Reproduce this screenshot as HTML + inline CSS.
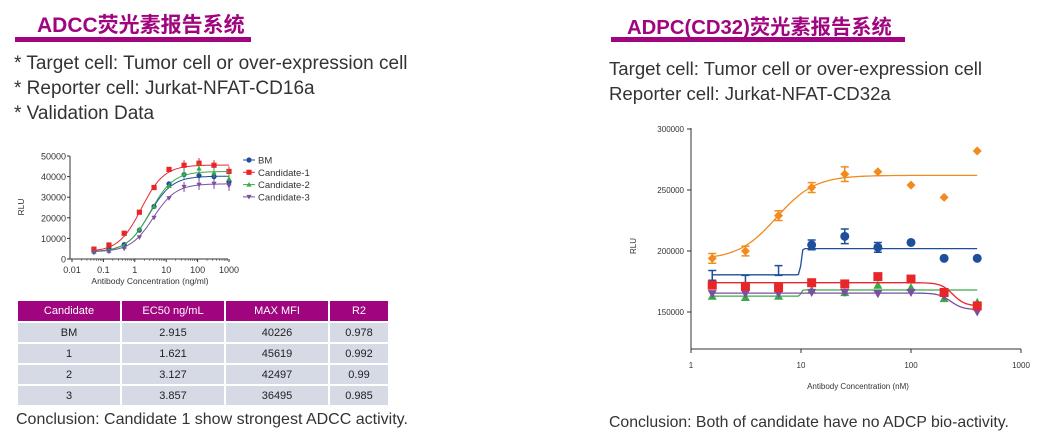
<!DOCTYPE html>
<html><head><meta charset="utf-8"><style>
body{margin:0;width:1046px;height:448px;background:#fff;overflow:hidden;position:relative;font-family:"Liberation Sans","Noto Sans CJK SC",sans-serif;color:#333}
.abs{position:absolute;white-space:nowrap}
.h{font-weight:bold;color:#a0057f}
.bar{position:absolute;background:#a0057f;height:5px}
.t{color:#333}
table{position:absolute;left:16px;top:299px;border-collapse:separate;border-spacing:2px;font-size:11px;text-align:center}
th,td{padding:0;line-height:12px}
th{background:#a0057f;color:#fff;font-weight:normal;height:20px}
td{background:#d6dae4;height:19px;color:#222}
svg{position:absolute;left:0;top:0}
</style></head><body>
<div class="abs h" style="left:37px;top:9px;font-size:21px">ADCC荧光素报告系统</div>
<div class="bar" style="left:15px;top:37px;width:236px"></div>
<div class="abs t" style="left:14px;top:53px;font-size:19px">* Target cell: Tumor cell or over-expression cell</div>
<div class="abs t" style="left:14px;top:78px;font-size:19px">* Reporter cell: Jurkat-NFAT-CD16a</div>
<div class="abs t" style="left:14px;top:103px;font-size:19px">* Validation Data</div>

<div class="abs h" style="left:627px;top:10px;font-size:20.3px">ADPC(CD32)荧光素报告系统</div>
<div class="bar" style="left:611px;top:37px;width:294px"></div>
<div class="abs t" style="left:609px;top:58px;font-size:18.6px">Target cell: Tumor cell or over-expression cell</div>
<div class="abs t" style="left:609px;top:83px;font-size:18.6px">Reporter cell: Jurkat-NFAT-CD32a</div>

<table>
<tr><th style="width:102px">Candidate</th><th style="width:102px">EC50 ng/mL</th><th style="width:102px">MAX MFI</th><th style="width:58px">R2</th></tr>
<tr><td>BM</td><td>2.915</td><td>40226</td><td>0.978</td></tr>
<tr><td>1</td><td>1.621</td><td>45619</td><td>0.992</td></tr>
<tr><td>2</td><td>3.127</td><td>42497</td><td>0.99</td></tr>
<tr><td>3</td><td>3.857</td><td>36495</td><td>0.985</td></tr>
</table>
<div class="abs" style="left:16px;top:411px;font-size:16px">Conclusion: Candidate 1 show strongest ADCC activity.</div>
<div class="abs" style="left:609px;top:414px;font-size:15.8px">Conclusion: Both of candidate have no ADCP bio-activity.</div>

<svg id="s" width="1046" height="448" xmlns="http://www.w3.org/2000/svg" font-family="Liberation Sans, sans-serif"></svg>
<script>
// ADCC chart data
const adccX=[0.05,0.15,0.46,1.4,4.1,12.3,37,111,333,1000];
const adccBM=[3800,5000,7000,14000,25500,36500,41000,40500,40000,37500];
const adccC1=[4800,6800,12500,22700,34700,43500,45500,46500,45500,42500];
const adccC2=[3500,4000,6000,14500,25500,35500,41500,44000,42000,39000];
const adccC3=[3000,3500,5000,10500,20000,29500,35000,36000,36500,35500];
const adccEC50=[2.915,1.621,3.127,3.857];
const adccTop=[40226,45619,42497,36495];
const adccNames=["BM","Candidate-1","Candidate-2","Candidate-3"];
const adccYTicks=[0,10000,20000,30000,40000,50000];
const adccXTicks=[0.01,0.1,1,10,100,1000];
// ADCP chart data
const adcpX=[1.56,3.125,6.25,12.5,25,50,100,200,400];
const adcpOrange=[194000,200000,229000,252000,263000,265000,254000,244000,282000];
const adcpBlue=[180000,176000,184000,205000,212000,203000,207000,194000,194000];
const adcpRed=[172000,171000,170000,174000,173000,179000,177000,166000,155000];
const adcpGreen=[163000,162000,163000,168000,166000,172000,170000,161000,158000];
const adcpPurple=[165000,165000,165000,166000,166000,165000,166000,163000,150000];
const adcpYTicks=[150000,200000,250000,300000];
const adcpXTicks=[1,10,100,1000];

const S=document.getElementById('s');const NS='http://www.w3.org/2000/svg';
function mk(t,a,p){const e=document.createElementNS(NS,t);for(const k in a)e.setAttribute(k,a[k]);(p||S).appendChild(e);return e;}
function txt(x,y,s,sz,anc,p){const e=mk('text',{x:x,y:y,'font-size':sz,'text-anchor':anc||'middle',fill:'#333'},p);e.textContent=s;return e;}
function marker(g,shape,x,y,r,c){
 if(shape==='circle')return mk('circle',{cx:x,cy:y,r:r,fill:c},g);
 if(shape==='square')return mk('rect',{x:x-r,y:y-r,width:2*r,height:2*r,fill:c},g);
 if(shape==='tri')return mk('polygon',{points:`${x},${y-r} ${x+r},${y+r*0.8} ${x-r},${y+r*0.8}`,fill:c},g);
 if(shape==='vtri')return mk('polygon',{points:`${x},${y+r} ${x+r},${y-r*0.8} ${x-r},${y-r*0.8}`,fill:c},g);
 if(shape==='diamond')return mk('polygon',{points:`${x},${y-r} ${x+r},${y} ${x},${y+r} ${x-r},${y}`,fill:c},g);
}
// ADCC axes
const lx=v=>72+(Math.log10(v)+2)*31.4, ly=v=>259-v/50000*103;
const g1=mk('g',{});
mk('line',{x1:70,y1:156,x2:70,y2:259,stroke:'#333','stroke-width':1},g1);
mk('line',{x1:70,y1:259,x2:228,y2:259,stroke:'#333','stroke-width':1},g1);
adccYTicks.forEach(v=>{mk('line',{x1:67,y1:ly(v),x2:70,y2:ly(v),stroke:'#333'},g1);txt(66,ly(v)+3.5,v,9,'end',g1);});
adccXTicks.forEach(v=>{mk('line',{x1:lx(v),y1:259,x2:lx(v),y2:262,stroke:'#333'},g1);txt(lx(v),273,v,9,'middle',g1);});
for(let d=-2;d<3;d++)for(let k=2;k<10;k++){const xx=lx(k*Math.pow(10,d));mk('line',{x1:xx,y1:259,x2:xx,y2:261,stroke:'#333','stroke-width':0.5},g1);}
txt(150,284,'Antibody Concentration (ng/ml)',8.5,'middle',g1);
const rl=txt(24,207,'RLU',8.5,'middle',g1);rl.setAttribute('transform','rotate(-90 24 207)');
const adccSeries=[adccBM,adccC1,adccC2,adccC3],adccCol=['#1f4e9c','#e8262a','#3aaa48','#7b4fa0'],adccShp=['circle','square','tri','vtri'];
adccSeries.forEach((ys,i)=>{
 const g=mk('g',{},g1);
 
 
 let d='';for(let k=0;k<=80;k++){const lv=Math.log10(0.05)+k/80*(3-Math.log10(0.05));const x=Math.pow(10,lv);const y=3500+(adccTop[i]-3500)/(1+Math.pow(adccEC50[i]/x,1.2));d+=(k?'L':'M')+lx(x).toFixed(1)+' '+ly(y).toFixed(1);}
 mk('path',{d:d,fill:'none',stroke:adccCol[i],'stroke-width':1},g);
 ys.forEach((v,j)=>{if(j>=6){mk('line',{x1:lx(adccX[j]),y1:ly(v+2500),x2:lx(adccX[j]),y2:ly(v-2500),stroke:adccCol[i],'stroke-width':1},g);}marker(g,adccShp[i],lx(adccX[j]),ly(v),2.6,adccCol[i]);});
 const yy=160+i*12.3;
 mk('line',{x1:243,y1:yy,x2:255,y2:yy,stroke:adccCol[i]},g);marker(g,adccShp[i],249,yy,2.6,adccCol[i]);
 txt(258,yy+3.5,adccNames[i],9.5,'start',g);
});
// ADCP axes
const rx=v=>691+Math.log10(v)*110, ry=v=>312-(v-150000)/50000*61;
const g2=mk('g',{});
mk('line',{x1:691,y1:128,x2:691,y2:349,stroke:'#333'},g2);
mk('line',{x1:691,y1:349,x2:1021,y2:349,stroke:'#333'},g2);
adcpYTicks.forEach(v=>{mk('line',{x1:687,y1:ry(v),x2:691,y2:ry(v),stroke:'#333'},g2);txt(684,ry(v)+3,v,8,'end',g2);});
adcpXTicks.forEach(v=>{mk('line',{x1:rx(v),y1:349,x2:rx(v),y2:353,stroke:'#333'},g2);txt(rx(v),368,v,8,'middle',g2);});
txt(858,389,'Antibody Concentration (nM)',8,'middle',g2);
const rl2=txt(636,246,'RLU',8,'middle',g2);rl2.setAttribute('transform','rotate(-90 636 246)');
function fit(f,c,name){const g=mk('g',{},g2);let d='';for(let k=0;k<=120;k++){const x=Math.pow(10,Math.log10(1.56)+k/120*(Math.log10(400)-Math.log10(1.56)));d+=(k?'L':'M')+rx(x).toFixed(1)+' '+ry(f(x)).toFixed(1);}mk('path',{d:d,fill:'none',stroke:c,'stroke-width':1.3},g);return g;}
const step=(a,b,e,h)=>x=>a+(b-a)/(1+Math.pow(e/x,h));
const adcpSeries=[[adcpOrange,'#f28a1e','diamond',step(193000,262000,6,2.5),'orange'],[adcpBlue,'#1f4e9c','circle',step(180500,202000,10,80),'blue'],[adcpGreen,'#3aaa48','tri',step(163000,168000,10,80),'green'],[adcpPurple,'#7b4fa0','vtri',step(165500,152000,230,8),'purple'],[adcpRed,'#e8262a','square',step(174000,155000,240,8),'red']];
adcpSeries.forEach(s=>{const g=fit(s[3],s[1],'adcp-series-'+s[4]);s[0].forEach((v,j)=>{const x=rx(adcpX[j]);if(s[4]==='orange'&&j<5||s[4]==='blue'&&j<6){const e=j===4?6000:4000;mk('path',{d:`M${x-4} ${ry(v+e)}H${x+4}M${x} ${ry(v+e)}V${ry(v-e)}M${x-4} ${ry(v-e)}H${x+4}`,stroke:s[1],'stroke-width':1.5,fill:'none'},g);}if(!(s[4]==='blue'&&j<3))marker(g,s[2],x,ry(v),4.5,s[1]);});});
</script>
</body></html>
